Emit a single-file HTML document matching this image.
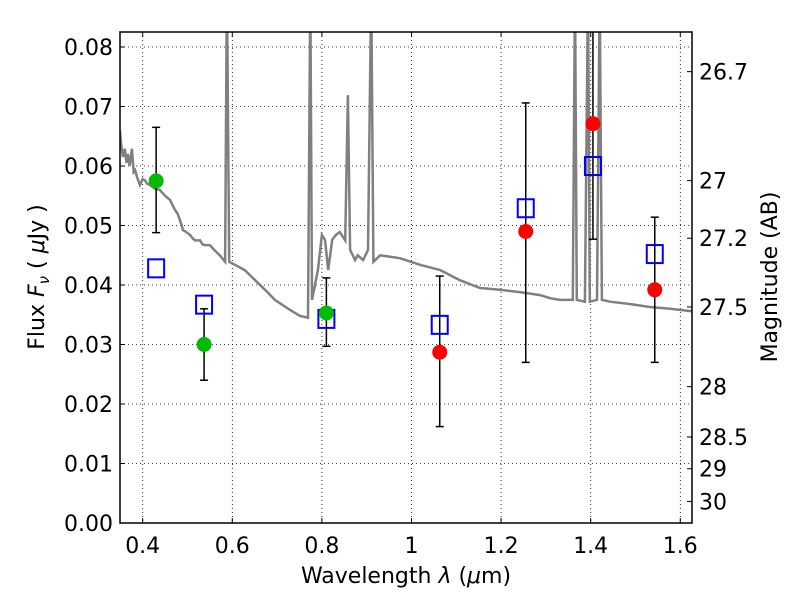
<!DOCTYPE html>
<html><head><meta charset="utf-8"><style>
body{margin:0;background:#fff}
svg text{font-family:"DejaVu Sans","Liberation Sans",sans-serif;fill:#000}
</style></head><body>
<svg id="c" width="800" height="600" viewBox="0 0 800 600"></svg>
<script>
const specLam=[0.349,0.352,0.356,0.360,0.364,0.367,0.371,0.376,0.380,0.383,0.388,0.394,0.400,0.405,0.410,0.416,0.427,0.438,0.450,0.461,0.472,0.478,0.483,0.487,0.490,0.495,0.506,0.512,0.517,0.528,0.534,0.539,0.550,0.561,0.572,0.584,0.588,0.593,0.606,0.628,0.651,0.673,0.695,0.729,0.751,0.769,0.774,0.778,0.791,0.800,0.807,0.814,0.823,0.831,0.840,0.852,0.858,0.863,0.874,0.880,0.892,0.903,0.910,0.915,0.930,0.974,1.019,1.064,1.108,1.153,1.197,1.242,1.287,1.309,1.331,1.360,1.365,1.369,1.387,1.394,1.398,1.414,1.420,1.425,1.443,1.487,1.532,1.577,1.626];
const specFlux=[0.066,0.0635,0.0615,0.0629,0.0605,0.0620,0.0600,0.0629,0.0590,0.0593,0.0580,0.0568,0.0578,0.0576,0.0570,0.0568,0.0562,0.0560,0.0550,0.0543,0.0526,0.0520,0.0509,0.0500,0.0492,0.0490,0.0484,0.0478,0.0475,0.0475,0.0468,0.0467,0.0467,0.0458,0.0450,0.0439,0.09,0.0439,0.0434,0.0425,0.0408,0.0392,0.0375,0.0358,0.0348,0.0345,0.09,0.0375,0.0425,0.0484,0.0476,0.0425,0.0476,0.0484,0.0489,0.0475,0.0719,0.0459,0.0442,0.0450,0.0442,0.0459,0.09,0.0439,0.0450,0.0445,0.0434,0.0425,0.0408,0.0395,0.0392,0.0388,0.0383,0.0378,0.0375,0.0375,0.09,0.0375,0.0372,0.09,0.0372,0.0375,0.09,0.0375,0.0372,0.0368,0.0363,0.0360,0.0356];
const greenLam=[0.43,0.537,0.81];
const greenFlux=[0.0575,0.0300,0.0353];
const greenLo=[0.0488,0.0240,0.0297];
const greenHi=[0.0665,0.0360,0.0412];
const redLam=[1.063,1.255,1.405,1.543];
const redFlux=[0.0287,0.0490,0.0671,0.0392];
const redLo=[0.0162,0.0270,0.0477,0.0270];
const redHi=[0.0415,0.0706,0.0900,0.0514];
const modelLam=[0.43,0.537,0.81,1.063,1.255,1.405,1.543];
const modelFlux=[0.0428,0.0367,0.0343,0.0333,0.0529,0.0600,0.0452];
const xTicks=[0.4,0.6,0.8,1.0,1.2,1.4,1.6];
const xTickLabels=["0.4","0.6","0.8","1","1.2","1.4","1.6"];
const yTicks=[0,0.01,0.02,0.03,0.04,0.05,0.06,0.07,0.08];
const yTickLabels=["0.00","0.01","0.02","0.03","0.04","0.05","0.06","0.07","0.08"];
const magTicks=[26.7,27,27.2,27.5,28,28.5,29,30];
const magLabels=["26.7","27","27.2","27.5","28","28.5","29","30"];

const L=120,R=692,T=32,B=523;
const X=v=>142.7+(v-0.4)*448;
const Y=v=>B-v*5950;
const NS="http://www.w3.org/2000/svg";
const svg=document.getElementById('c');
function mk(t,a,p){const e=document.createElementNS(NS,t);for(const k in a)e.setAttribute(k,a[k]);(p||svg).appendChild(e);return e;}
const defs=mk('defs',{});const cp=mk('clipPath',{id:'cp'},defs);mk('rect',{x:L,y:T,width:R-L,height:B-T},cp);

xTicks.forEach((v,i)=>{
 const g=mk('line',{x1:X(v),x2:X(v),y1:T,y2:B,stroke:'#000','stroke-width':0.8,'stroke-dasharray':'1,3'});
 
 
 mk('line',{x1:X(v),x2:X(v),y1:B,y2:B-5,stroke:'#000'});
 mk('line',{x1:X(v),x2:X(v),y1:T,y2:T+5,stroke:'#000'});
 const t=mk('text',{x:X(v),y:B+30,'font-size':22,'text-anchor':'middle'});t.textContent=xTickLabels[i];
 
 
});
yTicks.forEach((v,i)=>{
 if(v>0){const g=mk('line',{x1:L,x2:R,y1:Y(v),y2:Y(v),stroke:'#000','stroke-width':0.8,'stroke-dasharray':'1,3'});
 
 }
 mk('line',{x1:L,x2:L+5,y1:Y(v),y2:Y(v),stroke:'#000'});
 const t=mk('text',{x:L-7,y:Y(v)+8,'font-size':22,'text-anchor':'end'});t.textContent=yTickLabels[i];
 
 
});
magTicks.forEach((m,i)=>{
 const f=Math.pow(10,(23.9-m)/2.5);const y=Y(f);
 mk('line',{x1:R-5,x2:R,y1:y,y2:y,stroke:'#000'});
 const t=mk('text',{x:R+7,y:y+8,'font-size':22});t.textContent=magLabels[i];
 
 
});

let d='';specLam.forEach((l,i)=>{d+=(i?'L':'M')+X(l).toFixed(1)+','+Y(specFlux[i]).toFixed(1);});
const sp=mk('path',{d:d,fill:'none',stroke:'#808080','stroke-width':2.5,'clip-path':'url(#cp)'});



function errbar(l,lo,hi){
 const g=mk('g',{'clip-path':'url(#cp)'});
 
 
 mk('line',{x1:X(l),x2:X(l),y1:Y(lo),y2:Y(hi),stroke:'#000','stroke-width':1.5},g);
 mk('line',{x1:X(l)-4,x2:X(l)+4,y1:Y(lo),y2:Y(lo),stroke:'#000','stroke-width':1.5},g);
 mk('line',{x1:X(l)-4,x2:X(l)+4,y1:Y(hi),y2:Y(hi),stroke:'#000','stroke-width':1.5},g);
}
greenLam.forEach((l,i)=>errbar(l,greenLo[i],greenHi[i]));
redLam.forEach((l,i)=>errbar(l,redLo[i],redHi[i]));
modelLam.forEach((l,i)=>{
 const r=mk('rect',{x:X(l)-8,y:Y(modelFlux[i])-9,width:16,height:18,fill:'none',stroke:'#0000ff','stroke-width':2});
 
 
});
greenLam.forEach((l,i)=>{
 const c=mk('circle',{cx:X(l),cy:Y(greenFlux[i]),r:7.5,fill:'#00bb00',stroke:'none'});
 
 
});
redLam.forEach((l,i)=>{
 const c=mk('circle',{cx:X(l),cy:Y(redFlux[i]),r:7.5,fill:'#ff0000',stroke:'none'});
 
 
});

const fr=mk('rect',{x:L,y:T,width:R-L,height:B-T,fill:'none',stroke:'#000','stroke-width':1.5});


</script>
<svg width="800" height="600" style="position:absolute;left:0;top:0">
<text x="406" y="583" font-size="22" text-anchor="middle">Wavelength  <tspan font-style="italic">λ</tspan> (<tspan font-style="italic">μ</tspan>m)</text>
<text transform="translate(44,277) rotate(-90)" font-size="22" text-anchor="middle">Flux  <tspan font-style="italic">F<tspan font-size="15" dy="5">ν</tspan></tspan><tspan dy="-5">  (  </tspan><tspan font-style="italic">μ</tspan>Jy )</text>
<text transform="translate(777,277) rotate(-90)" font-size="22" text-anchor="middle">Magnitude (AB)</text>
</svg>
</body></html>
